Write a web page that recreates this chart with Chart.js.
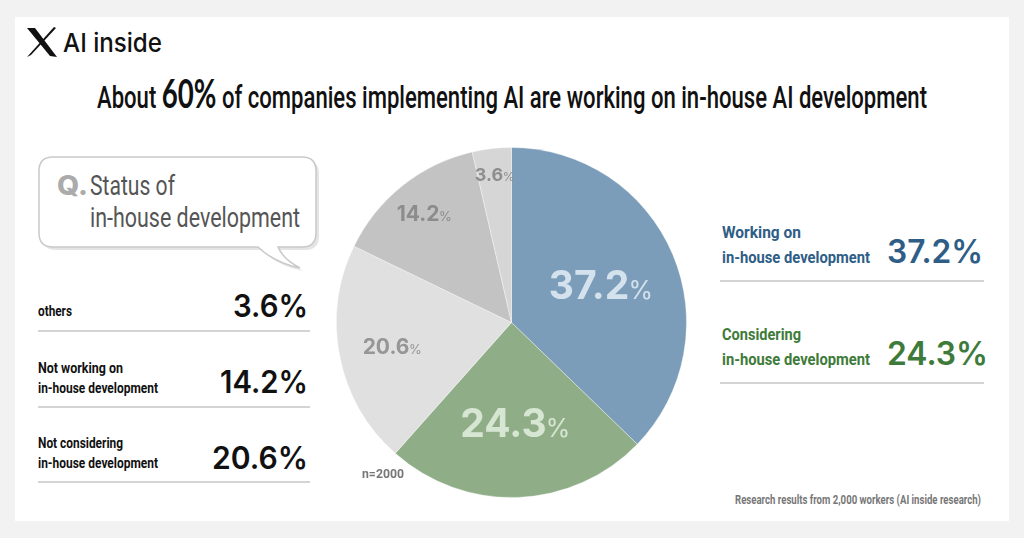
<!DOCTYPE html>
<html>
<head>
<meta charset="utf-8">
<script src="https://cdn.jsdelivr.net/npm/chart.js@4/dist/chart.umd.min.js"></script>
<style>
  html,body{margin:0;padding:0;background:#f2f2f2;}
  #root{position:relative;width:1024px;height:538px;overflow:hidden;background:#f2f2f2;font-family:Roboto,"Liberation Sans",sans-serif;}
  #card{position:absolute;left:15px;top:17px;width:994px;height:504px;background:#fff;}
  #pie{position:absolute;left:336px;top:147px;width:351px;height:351px;}
  .rule{position:absolute;height:2px;background:#d4d4d4;}
  .t{position:absolute;left:0;top:0;white-space:nowrap;line-height:1;}
</style>
</head>
<body>
<div id="root">
  <div id="card"></div>
  <svg id="deco" width="1024" height="538" style="position:absolute;left:0;top:0">
    <!-- logo mark -->
    <polygon points="27,28 35,28 57,57 50,56" fill="#111"/>
    <polygon points="54,27 56,28 31,55 27,57" fill="#111"/>
    <!-- speech bubble shadow -->
    <path d="M56,160 H305 Q319,160 319,174 V236 Q319,250 305,250 H281 Q286,262 303,271 Q278,266 261,250 H56 Q42,250 42,236 V174 Q42,160 56,160 Z" fill="#e4e4e4"/>
    <!-- speech bubble -->
    <path d="M53,157 H302 Q316,157 316,171 V233 Q316,247 302,247 H278 Q283,259 300,268 Q275,263 258,247 H53 Q39,247 39,233 V171 Q39,157 53,157 Z" fill="#fff" stroke="#c9c9c9" stroke-width="1.5"/>
  </svg>
  <div id="pie"><canvas id="c"></canvas></div>
  <div class="rule" style="left:38px;top:330px;width:272px"></div>
  <div class="rule" style="left:38px;top:406px;width:272px"></div>
  <div class="rule" style="left:38px;top:481px;width:272px"></div>
  <div class="rule" style="left:720px;top:280px;width:264px"></div>
  <div class="rule" style="left:720px;top:382px;width:264px"></div>
</div>
<script>
// ---- data ----
const categories = [
  ["Working on", "in-house development"],
  ["Considering", "in-house development"],
  ["Not considering", "in-house development"],
  ["Not working on", "in-house development"],
  ["others"]
];
const values = [37.2, 24.3, 20.6, 14.2, 3.6];
const sampleNote = "n=2000";
const titleParts = ["About ", "60%", " of companies implementing AI are working on in-house AI development"];
const questionParts = ["Q.", "Status of", "in-house development"];
const sourceNote = "Research results from 2,000 workers (AI inside research)";
const brand = "AI inside";

// ---- styles ----
const sliceColors = ["#7b9db9", "#8fae87", "#e0e0e0", "#c3c3c3", "#d6d6d6"];
const labelColors = ["#d4e2ed", "#d7e6d2", "#969696", "#8c8c8c", "#8e8e8e"];
const labelRadius = [0.555, 0.575, 0.695, 0.80, 0.85];
const labelBig = [39, 39, 21, 21, 18];
const labelPct = [25, 25, 13, 13, 12];

const root = document.getElementById('root');
function place(html, o) {
  const d = document.createElement('div');
  d.className = 't';
  d.style.font = o.font;
  d.style.color = o.color || '#111';
  d.innerHTML = html + '<span style="display:inline-block;width:0;height:0;vertical-align:baseline"></span>';
  root.appendChild(d);
  const m = d.lastChild;
  const base = m.offsetTop;
  const nat = d.getBoundingClientRect().width;
  const s = o.w ? o.w / nat : 1;
  const w = nat * s;
  const left = o.align === 'right' ? o.x - w : o.x;
  d.style.left = left + 'px';
  d.style.top = (o.y - base) + 'px';
  d.style.transformOrigin = '0 0';
  d.style.transform = 'scaleX(' + s + ')';
  return d;
}
const fmt = v => v.toFixed(1) + '%';
const cond = '"Roboto","Liberation Sans",sans-serif';
const geo = '"Inter","Lato","Open Sans",sans-serif';

// brand
place(brand, {font: '500 26px ' + geo, x: 63, y: 52, w: 99, color: '#111'});
// title
place(titleParts[0] + '<span style="font-weight:700;font-size:40px;font-family:Lato,sans-serif">' + titleParts[1] + '</span>' + titleParts[2],
  {font: '500 32px ' + cond, x: 97, y: 108, w: 830, color: '#111'});
// question bubble
place(questionParts[0], {font: '800 27px ' + geo, x: 57, y: 195, w: 31, color: '#ababab'});
place(questionParts[1], {font: '400 28px ' + cond, x: 90, y: 195, w: 85, color: '#555'});
place(questionParts[2], {font: '400 28px ' + cond, x: 90, y: 227, w: 210, color: '#555'});

// left panel: others, not working, not considering
const leftRows = [
  {i: 4, base: [316], valY: 317, ws: [34]},
  {i: 3, base: [373, 393], valY: 393, ws: [85, 120]},
  {i: 2, base: [448, 468], valY: 469, ws: [85, 120]}
];
leftRows.forEach(r => {
  categories[r.i].forEach((line, k) => {
    place(line, {font: '700 14px ' + cond, x: 38, y: r.base[k], w: r.ws[k], color: '#111'});
  });
  place(fmt(values[r.i]), {font: '600 31px ' + geo, x: 308, y: r.valY, align: 'right', w: (r.i === 4 ? 75 : (r.i === 3 ? 88 : 96)), color: '#111'});
});

// right panel: working, considering
const rightColors = ["#2e5e86", "#3e7b3a"];
const rightRows = [
  {i: 0, base: [238, 263], vw: 96},
  {i: 1, base: [340, 365], vw: 101}
];
rightRows.forEach((r, n) => {
  categories[r.i].forEach((line, k) => {
    place(line, {font: '700 17px ' + cond, x: 722, y: r.base[k], w: (k === 0 ? 79 : 148), color: rightColors[n]});
  });
  place(fmt(values[r.i]), {font: '600 32px ' + geo, x: 887, y: r.base[1], w: r.vw, color: rightColors[n]});
});

place(sampleNote, {font: '700 12px ' + cond, x: 362, y: 478, w: 42, color: '#777'});
place(sourceNote, {font: '700 12px ' + cond, x: 981, y: 504, align: 'right', w: 246, color: '#777'});

// ---- pie labels plugin ----
const pieLabels = {
  id: 'pieLabels',
  afterDatasetsDraw(chart) {
    const ctx = chart.ctx;
    const meta = chart.getDatasetMeta(0);
    meta.data.forEach((arc, i) => {
      const p = arc.getProps(['x', 'y', 'startAngle', 'endAngle', 'outerRadius'], true);
      const a = (p.startAngle + p.endAngle) / 2;
      const r = p.outerRadius * labelRadius[i];
      const cx = p.x + Math.cos(a) * r;
      const cy = p.y + Math.sin(a) * r;
      const num = values[i].toFixed(1);
      ctx.save();
      ctx.fillStyle = labelColors[i];
      ctx.textBaseline = 'alphabetic';
      ctx.textAlign = 'left';
      const f1 = '700 ' + labelBig[i] + 'px ' + geo;
      const f2 = '400 ' + labelPct[i] + 'px ' + geo;
      ctx.font = f1;
      const w1 = ctx.measureText(num).width;
      ctx.font = f2;
      const w2 = ctx.measureText('%').width;
      const gap = -labelBig[i] * 0.02;
      const x0 = cx - (w1 + gap + w2) / 2;
      const baseY = cy + labelBig[i] * 0.36;
      ctx.font = f1;
      ctx.fillText(num, x0, baseY);
      ctx.font = f2;
      ctx.fillText('%', x0 + w1 + gap, baseY);
      ctx.restore();
    });
  }
};

new Chart(document.getElementById('c'), {
  type: 'pie',
  data: {
    labels: categories.map(c => c.join(' ')),
    datasets: [{
      data: values,
      backgroundColor: sliceColors,
      borderColor: 'rgba(255,255,255,0.35)',
      borderWidth: 1
    }]
  },
  options: {
    responsive: true,
    maintainAspectRatio: false,
    animation: false,
    layout: {padding: 0},
    plugins: {legend: {display: false}, tooltip: {enabled: false}, title: {display: false}}
  },
  plugins: [pieLabels]
});
</script>
</body>
</html>
